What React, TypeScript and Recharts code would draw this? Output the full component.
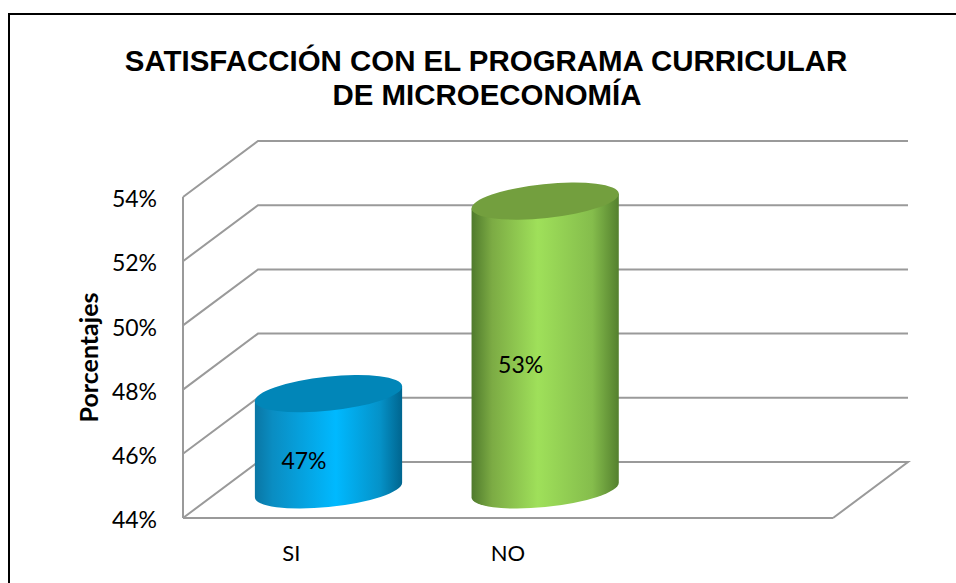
import React from 'react';
import { BarChart, Bar, CartesianGrid, XAxis, YAxis, LabelList, Label } from 'recharts';

const CATEGORIES = ['SI', 'NO', ''];
const PERCENTAGES = [47, 53, null];
const Y_TICKS = [44, 46, 48, 50, 52, 54];

const chartData = CATEGORIES.map((name, i) => ({ name, value: PERCENTAGES[i] }));

// Profundidad del "3D"
const DEPTH_X = 75;
const DEPTH_Y = 56;
const PLOT_BOTTOM = 518;
const GRID_COLOR = '#9a9a9a';
const BODY_FONT = 'Lato, "Open Sans", sans-serif';

const TILT = 6;
const RY = 17;

function Grid3D(props: any) {
  const { x1, x2, y1 } = props;
  const isFloor = y1 >= PLOT_BOTTOM - 1;
  const backY = y1 - DEPTH_Y;
  const points = `${x1},${y1} ${x1 + DEPTH_X},${backY} ${x2 + DEPTH_X},${backY}` +
    (isFloor ? ` ${x2},${y1}` : '');
  return <polyline points={points} fill="none" stroke={GRID_COLOR} strokeWidth={2} />;
}

function Cylinder(props: any) {
  const { x, y, width, height, index } = props;
  if (!height || height <= 0) return null;
  const rx = width / 2;
  const cx = x + rx + DEPTH_X / 2;
  const topY = y - DEPTH_Y / 2;
  const baseY = y + height - DEPTH_Y / 2;
  const rad = (TILT * Math.PI) / 180;
  const extent = Math.sqrt(rx * rx * Math.cos(rad) ** 2 + RY * RY * Math.sin(rad) ** 2);
  const lift = ((rx * rx - RY * RY) * Math.sin(rad) * Math.cos(rad)) / extent;
  const key = index === 0 ? 'blue' : 'green';
  const body =
    `M${cx - extent},${topY + lift} L${cx - extent},${baseY + lift} ` +
    `A${rx},${RY} ${-TILT} 0 0 ${cx + extent},${baseY - lift} ` +
    `L${cx + extent},${topY - lift} Z`;
  return (
    <g>
      <path d={body} fill={`url(#side-${key})`} />
      <ellipse
        cx={cx}
        cy={topY}
        rx={rx}
        ry={RY}
        fill={index === 0 ? '#0186b8' : '#739f3e'}
        transform={`rotate(${-TILT} ${cx} ${topY})`}
      />
    </g>
  );
}

export default function App() {
  return (
    <div style={{ position: 'absolute', left: 0, top: 0, width: 956, height: 583, background: '#fff' }}>
      <div
        style={{
          position: 'absolute',
          left: 8,
          top: 13,
          right: 0,
          bottom: 0,
          borderLeft: '2px solid #000',
          borderTop: '2px solid #000',
        }}
      />
      <div style={{ position: 'absolute', left: 0, top: 0 }}>
        <BarChart
          width={956}
          height={583}
          data={chartData}
          margin={{ top: 197, right: 123, bottom: 0, left: 103 }}
          barSize={148}
        >
          <defs>
            <linearGradient id="side-blue" x1="0" y1="0" x2="1" y2="0">
              <stop offset="0" stopColor="#0a76a4" />
              <stop offset="0.12" stopColor="#0a8dc2" />
              <stop offset="0.55" stopColor="#00b9ff" />
              <stop offset="0.85" stopColor="#0592c8" />
              <stop offset="1" stopColor="#00658f" />
            </linearGradient>
            <linearGradient id="side-green" x1="0" y1="0" x2="1" y2="0">
              <stop offset="0" stopColor="#4f7a2c" />
              <stop offset="0.14" stopColor="#7cab44" />
              <stop offset="0.45" stopColor="#9fe05a" />
              <stop offset="0.82" stopColor="#85bd4c" />
              <stop offset="1" stopColor="#54802e" />
            </linearGradient>
          </defs>
          <text
            x={486}
            y={71}
            textAnchor="middle"
            fontFamily="'Liberation Sans', Arial, sans-serif"
            fontWeight="bold"
            fontSize={29.45}
            fill="#000"
          >
            SATISFACCIÓN CON EL PROGRAMA CURRICULAR
          </text>
          <text
            x={487}
            y={105}
            textAnchor="middle"
            fontFamily="'Liberation Sans', Arial, sans-serif"
            fontWeight="bold"
            fontSize={29.45}
            fill="#000"
          >
            DE MICROECONOMÍA
          </text>
          <CartesianGrid horizontal={(p: any) => <Grid3D key={p.key} {...p} />} vertical={false} syncWithTicks />
          <XAxis
            dataKey="name"
            height={65}
            axisLine={{ stroke: GRID_COLOR, strokeWidth: 2 }}
            tickLine={false}
            tickMargin={21}
            tick={{ fill: '#000', fontSize: 22, fontFamily: BODY_FONT }}
          />
          <YAxis
            domain={[44, 54]}
            ticks={Y_TICKS}
            interval={0}
            width={80}
            axisLine={{ stroke: GRID_COLOR, strokeWidth: 2 }}
            tickLine={false}
            tickMargin={20}
            tickFormatter={(v: number) => `${v}%`}
            tick={{ fill: '#000', fontSize: 23, fontFamily: BODY_FONT, dy: 2 }}
          >
            <Label
              value="Porcentajes"
              angle={-90}
              position="insideLeft"
              dx={-19}
              dy={0}
              style={{ textAnchor: 'middle', fontFamily: BODY_FONT, fontWeight: 'bold', fontSize: 25, fill: '#000' }}
            />
          </YAxis>
          <Bar dataKey="value" isAnimationActive={false} shape={<Cylinder />}>
            <LabelList
              dataKey="value"
              position="center"
              dx={13}
              dy={-9}
              formatter={(v: any) => (v == null ? '' : `${v}%`)}
              style={{ fill: '#000', fontSize: 23, fontFamily: BODY_FONT }}
            />
          </Bar>
        </BarChart>
      </div>
    </div>
  );
}
